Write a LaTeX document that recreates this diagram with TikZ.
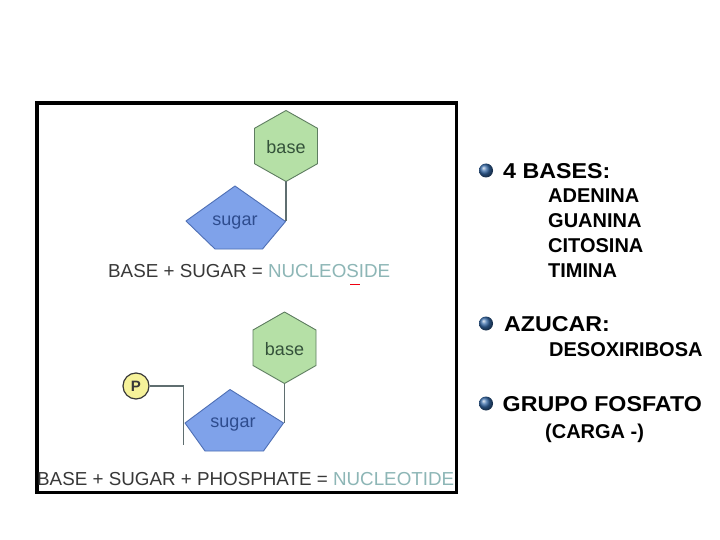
\documentclass[tikz,border=0pt]{standalone}
\usepackage{fontspec}
\setmainfont{Liberation Sans}
\newfontfamily\hdfont[FakeStretch=1.08]{Liberation Sans}
\definecolor{hexfill}{HTML}{B5E0A6}
\definecolor{hexline}{HTML}{5E7D60}
\definecolor{basetxt}{HTML}{34523A}
\definecolor{sugfill}{HTML}{7FA2EA}
\definecolor{sugline}{HTML}{4E6FB5}
\definecolor{sugtxt}{HTML}{2E4C8E}
\definecolor{linkcol}{HTML}{5F6E70}
\definecolor{captxt}{HTML}{383838}
\definecolor{nuctxt}{HTML}{8DB6B6}
\definecolor{pfill}{HTML}{F6F29A}
\definecolor{bulletc}{HTML}{3468A6}
\tikzset{
  hexshape/.style={fill=hexfill, draw=hexline, line width=0.9pt, line join=round},
  pentshape/.style={fill=sugfill, draw=sugline, line width=0.9pt, line join=round},
  link/.style={draw=linkcol, line width=1.3pt},
  lbl/.style={inner sep=0, font=\fontsize{18}{20}\selectfont},
  captext/.style={anchor=base west, inner sep=0, text=captxt, font=\fontsize{18.8}{20}\selectfont},
  hdtext/.style={anchor=base west, inner sep=0, font=\hdfont\bfseries\fontsize{21.5}{24}\selectfont},
  subtext/.style={anchor=base west, inner sep=0, font=\bfseries\fontsize{20}{22}\selectfont},
  bulletball/.style={ball color=bulletc}
}
\begin{document}
\begin{tikzpicture}[x=1pt,y=-1pt]
\useasboundingbox (0,0) rectangle (720,540);
\fill[white] (0,0) rectangle (720,540);
% frame
\draw[line width=3.5pt] (37,103) rectangle (456.5,492.5);

% ---------- nucleoside ----------
\coordinate (h1t) at (286,110.5);
\coordinate (h1b) at (286,181.5);
\filldraw[hexshape] (h1t) -- (317.5,128.3) -- (317.5,163.7) -- (h1b) -- (254.5,163.7) -- (254.5,128.3) -- cycle;
\node[lbl, text=basetxt] (base1) at (286,147) {base};
\coordinate (s1r) at (285.5,221.5);
\filldraw[pentshape] (235,186) -- (s1r) -- (262.5,249) -- (215,249) -- (186,221) -- cycle;
\node[lbl, text=sugtxt] (sugar1) at (235,223) {sugar};
\draw[link] (h1b) -- (h1b |- s1r);
\node[captext] (cap1) at (108,277.5) {BASE + SUGAR = \textcolor{nuctxt}{NUCLEOSIDE}};
\draw[red!75!purple, line width=1.4pt] (350,284.5) -- (360,284.5);

% ---------- nucleotide ----------
\coordinate (h2t) at (284.5,312);
\coordinate (h2b) at (284.5,383.5);
\filldraw[hexshape] (h2t) -- (316,330) -- (316,365.5) -- (h2b) -- (253,365.5) -- (253,330) -- cycle;
\node[lbl, text=basetxt] (base2) at (284.5,349) {base};
\coordinate (s2r) at (283.5,423);
\coordinate (s2l) at (185,423);
\filldraw[pentshape] (230,389.5) -- (s2r) -- (263.5,451) -- (205,451) -- (s2l) -- cycle;
\node[lbl, text=sugtxt] (sugar2) at (233,425) {sugar};
\draw[link] (h2b) -- (h2b |- s2r);
\node[circle, draw=captxt, line width=1.2pt, fill=pfill, minimum size=26pt, inner sep=0,
      font=\bfseries\fontsize{15}{16}\selectfont, text=captxt] (p) at (136,386) {P};
\coordinate (pc) at (183.3,386);
\coordinate (pd) at (183.3,445);
\draw[link, line width=1.6pt, line join=miter] (p.east) -- (pc) -- (pd);
\node[captext] (cap2) at (37,485) {BASE + SUGAR + PHOSPHATE = \textcolor{nuctxt}{NUCLEOTIDE}};

% ---------- right column ----------
\shade[bulletball] (486,170.5) circle (7);
\node[hdtext] (t1) at (503,178.3) {4 BASES:};
\node[subtext] (a1) at (548,203) {ADENINA};
\node[subtext] (a2) at (548,228) {GUANINA};
\node[subtext] (a3) at (548,252.5) {CITOSINA};
\node[subtext] (a4) at (548,277) {TIMINA};

\shade[bulletball] (486,323.5) circle (7);
\node[hdtext] (t2) at (504,331) {AZUCAR:};
\node[subtext] (b1) at (549,356) {DESOXIRIBOSA};

\shade[bulletball] (486,403.5) circle (7);
\node[hdtext] (t3) at (502.5,411) {GRUPO FOSFATO};
\node[subtext] (c1) at (545,438.5) {(CARGA -)};
\end{tikzpicture}
\end{document}
